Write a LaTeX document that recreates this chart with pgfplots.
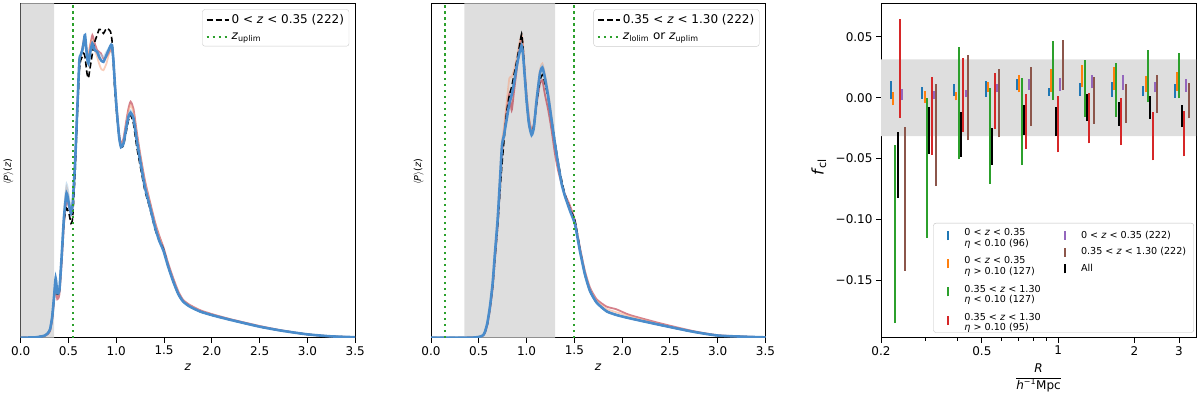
\documentclass[border=0pt]{standalone}
\usepackage{fontspec}
\setmainfont{DejaVu Sans}
\usepackage{pgfplots}
\usepackage{pgfplotstable}
\pgfplotsset{compat=1.18}

\definecolor{tabblue}{HTML}{1F77B4}
\definecolor{taborange}{HTML}{FF7F0E}
\definecolor{tabgreen}{HTML}{2CA02C}
\definecolor{tabred}{HTML}{D62728}
\definecolor{tabpurple}{HTML}{9467BD}
\definecolor{tabbrown}{HTML}{8C564B}
\definecolor{pzblue}{HTML}{4A8CCB}
\definecolor{pzlblue}{HTML}{A6CBE5}
\definecolor{pzdred}{HTML}{B2182B}
\definecolor{pzpink}{HTML}{F4A582}
\definecolor{band}{HTML}{DEDEDE}

% mean P(z), first redshift bin
\pgfplotstableread{
z      b     k     dr    sa    lb
0.000  0.0   0.0   0.0   0.0   0.0
0.150  0.1   0.1   0.1   0.1   0.1
0.200  0.3   0.3   0.3   0.3   0.3
0.250  0.6   0.6   0.5   0.6   0.7
0.280  1.2   1.2   1.0   1.2   1.3
0.307  2.5   2.5   2.0   2.4   2.7
0.330  6.3   6.3   5.5   6.2   6.8
0.352  13.3  13.0  12.0  13.0  14.0
0.366  17.7  17.0  15.5  17.0  18.5
0.383  13.3  13.0  11.5  13.0  14.0
0.405  14.3  14.0  13.0  14.0  15.0
0.430  25.0  24.5  23.0  25.0  26.0
0.453  36.0  35.0  34.0  37.0  37.5
0.480  43.2  38.7  41.0  45.0  46.0
0.506  39.7  37.0  39.0  41.0  42.0
0.527  37.2  34.2  37.0  38.0  38.5
0.544  40.0  36.0  40.0  40.5  40.5
0.570  53.0  50.0  53.0  53.0  53.0
0.593  69.0  67.0  69.0  69.0  69.0
0.614  83.0  80.0  82.0  82.5  83.0
0.628  84.5  83.0  84.0  84.5  84.5
0.645  86.0  84.0  86.5  86.0  86.0
0.660  88.5  85.0  89.0  88.0  88.5
0.673  90.5  84.0  89.5  88.0  90.0
0.694  84.0  79.0  85.0  85.5  84.5
0.708  82.0  77.6  83.0  84.0  82.5
0.725  85.0  80.5  87.0  87.5  85.5
0.750  88.0  85.0  90.5  89.0  88.0
0.775  86.0  88.5  88.0  86.0  86.5
0.800  85.5  90.5  86.0  84.0  85.5
0.820  84.0  92.2  85.5  82.0  85.0
0.840  83.0  92.0  85.0  80.5  84.5
0.866  82.5  91.0  83.5  80.0  84.0
0.897  84.5  92.5  84.0  82.0  85.5
0.920  86.0  92.2  85.0  84.5  86.5
0.940  87.3  91.5  86.0  86.0  87.5
0.955  87.5  89.0  86.5  86.5  87.5
0.970  83.0  82.0  83.0  83.0  83.0
0.985  76.0  74.0  76.0  76.0  76.0
1.005  68.0  67.0  68.5  68.0  68.0
1.030  60.0  60.0  61.0  60.5  60.0
1.050  57.0  57.0  58.0  57.5  57.0
1.075  58.0  57.5  59.5  59.0  58.0
1.100  62.0  61.0  64.0  63.0  62.5
1.127  66.0  65.0  68.5  67.5  66.5
1.150  67.3  66.6  70.6  69.5  68.0
1.180  65.6  64.0  68.5  67.5  66.0
1.215  59.0  57.0  61.5  60.5  59.5
1.250  53.0  51.5  55.0  54.5  53.5
1.300  45.0  44.0  47.0  46.5  45.5
1.354  39.0  38.5  40.5  40.0  39.0
1.406  33.0  32.5  34.5  34.0  33.0
1.450  29.0  29.0  30.5  30.0  29.0
1.494  26.0  26.5  27.0  26.5  26.0
1.546  21.0  21.0  22.0  21.5  21.0
1.600  16.5  16.5  17.5  17.0  16.5
1.650  13.0  13.0  13.8  13.5  13.0
1.700  10.8  10.8  11.3  11.0  10.8
1.770  9.3   9.3   9.8   9.6   9.3
1.880  7.8   7.8   8.2   8.0   7.8
2.020  6.6   6.6   6.9   6.8   6.6
2.200  5.3   5.3   5.5   5.4   5.3
2.500  3.3   3.3   3.5   3.4   3.3
2.730  2.1   2.1   2.2   2.1   2.1
3.000  1.0   1.0   1.0   1.0   1.0
3.250  0.4   0.4   0.4   0.4   0.4
3.500  0.15  0.15  0.15  0.15  0.15
}\pzlow

% mean P(z), second redshift bin
\pgfplotstableread{
z      b     k     dr    sa    lb
0.000  0.0   0.0   0.0   0.0   0.0
0.300  0.0   0.0   0.0   0.0   0.0
0.450  0.05  0.05  0.05  0.05  0.05
0.513  0.3   0.3   0.3   0.3   0.3
0.547  0.8   0.8   0.7   0.8   0.8
0.565  1.8   1.7   1.5   1.8   1.9
0.589  4.3   4.0   3.8   4.3   4.4
0.617  9.3   9.0   8.5   9.3   9.5
0.645  16.3  15.5  15.0  16.3  16.5
0.669  25.2  24.0  23.5  25.5  25.5
0.697  35.2  33.5  33.5  36.0  35.5
0.722  47.2  44.0  45.0  48.0  47.5
0.743  57.5  52.0  55.0  58.5  57.5
0.764  60.6  59.0  61.0  63.0  61.0
0.790  65.0  67.0  68.0  70.0  65.5
0.820  70.0  72.5  73.0  77.6  71.0
0.844  72.6  75.0  68.0  78.0  73.5
0.868  76.0  78.5  73.5  80.0  77.0
0.896  81.0  82.5  80.0  83.5  81.5
0.924  85.0  87.0  86.5  88.0  85.5
0.948  87.3  90.8  90.0  90.5  88.0
0.962  85.0  87.0  87.0  88.0  85.5
0.976  80.0  81.0  81.0  82.0  80.5
1.000  71.0  71.0  72.5  73.0  71.5
1.025  64.0  64.0  65.5  66.0  64.5
1.053  60.6  61.0  62.0  61.5  61.0
1.077  63.0  63.5  64.0  64.0  63.5
1.105  71.0  70.0  70.0  72.0  71.5
1.140  79.0  77.0  76.0  80.0  79.5
1.165  80.8  78.6  77.0  82.0  81.5
1.190  78.0  76.5  73.0  79.0  78.5
1.227  72.0  71.5  68.0  73.0  72.5
1.262  65.0  65.0  62.0  66.0  65.5
1.297  58.0  58.5  55.0  58.5  58.0
1.330  52.0  52.5  50.0  52.5  52.0
1.367  46.0  47.0  46.0  46.5  46.0
1.400  42.5  43.0  43.0  42.5  42.5
1.454  38.0  38.5  39.5  38.5  38.0
1.506  34.0  35.0  35.0  34.0  34.0
1.558  26.0  26.5  27.0  26.5  26.0
1.610  19.0  19.0  20.0  19.5  19.0
1.663  14.0  14.0  15.0  14.5  14.0
1.733  10.5  10.5  11.5  11.0  10.5
1.837  7.9   7.9   9.3   8.6   7.9
1.940  6.8   6.8   8.5   7.6   6.8
2.080  5.8   5.8   6.8   6.4   5.8
2.400  3.8   3.8   4.3   4.0   3.8
2.740  1.8   1.8   2.0   1.9   1.8
3.020  0.6   0.6   0.7   0.6   0.6
3.500  0.1   0.1   0.1   0.1   0.1
}\pzmid

% f_cl ranges (low, high) per radial bin
\pgfplotstableread{
x      blo     bhi    olo     ohi    glo     ghi    rlo     rhi     plo     phi    nlo     nhi     klo     khi
0.2330 -0.0010 0.0137 -0.0063 0.0047 -0.1850 -0.0390 -0.0164 0.0647 -0.0020 0.0068 -0.1420 -0.0244 -0.0820 -0.0280
0.3104 -0.0010 0.0085 -0.0041 0.0058 -0.1150 -0.0005 -0.0470 0.0170 -0.0010 0.0055 -0.0726 0.0115 -0.0458 -0.0074
0.4134 0.0014 0.0115 -0.0022 0.0047 -0.0507 0.0414 -0.0280 0.0323 0.0005 0.0063 -0.0350 0.0348 -0.0485 -0.0115
0.5507 0.0008 0.0137 0.0049 0.0132 -0.0707 0.0077 -0.0258 0.0200 0.0044 0.0115 -0.0326 0.0233 -0.0550 -0.0252
0.7335 0.0060 0.0151 0.0044 0.0184 -0.0553 0.0162 -0.0419 0.0027 0.0063 0.0151 -0.0233 0.0252 -0.0304 -0.0058
0.9770 0.0016 0.0082 0.0049 0.0233 -0.0019 0.0463 -0.0449 0.0011 0.0055 0.0162 0.0063 0.0471 -0.0315 -0.0079
1.3014 0.0016 0.0118 0.0085 0.0266 -0.0156 0.0307 -0.0375 0.0036 0.0077 0.0186 -0.0214 0.0167 -0.0192 0.0027
1.7335 0.0008 0.0129 0.0063 0.0252 -0.0156 0.0288 -0.0389 -0.0005 0.0063 0.0184 -0.0205 0.0110 -0.0230 -0.0033
2.3090 0.0014 0.0093 0.0044 0.0178 -0.0033 0.0392 -0.0515 -0.0118 0.0044 0.0132 -0.0123 0.0189 -0.0173 0.0016
3.0760 0.0000 0.0110 0.0058 0.0211 -0.0005 0.0370 -0.0482 -0.0107 0.0049 0.0151 -0.0170 0.0118 -0.0241 -0.0058
}\fclbins

\pgfplotsset{
  mpl/.style={
    scale only axis, height=334.4pt,
    axis line style={line width=1pt, black},
    every tick/.style={line width=1pt, black},
    major tick length=5pt, minor tick length=3pt,
    tick align=outside, xtick pos=bottom, ytick pos=left,
    tick label style={font=\fontsize{12}{12}\selectfont},
  },
  pzaxis/.style={mpl, width=334.5pt, xmin=0, xmax=3.5, ymin=0, ymax=100,
    xtick={0,0.5,1,1.5,2,2.5,3,3.5},
    xticklabels={0.0,0.5,1.0,1.5,2.0,2.5,3.0,3.5}, ytick=\empty,
    xlabel={\textit{z}},
    xlabel style={at={(axis description cs:0.5,0)}, anchor=center, yshift=-30pt,
      font=\fontsize{12}{12}\selectfont},
    ylabel={\ensuremath{\langle}\textit{P}\ensuremath{\rangle}(\textit{z})},
    ylabel style={at={(axis description cs:-0.037,0.496)}, anchor=center,
      font=\fontsize{9.6}{9.6}\selectfont},
    legend style={at={(0.982,0.982)}, anchor=north east, draw=black!20,
      rounded corners=2.5pt, fill=white, font=\fontsize{12}{12}\selectfont,
      row sep=4pt, inner sep=3pt},
    legend cell align=left,
    legend image code/.code={\draw[##1] (0pt,0pt) -- (22pt,0pt);},
  },
  curve/.style={smooth, tension=0.35},
  bg/.style={curve, line width=1.8pt, opacity=0.55, forget plot},
  kdash/.style={curve, black, line width=1.6pt, dash pattern=on 6pt off 3pt},
  gdot/.style={tabgreen, line width=2.2pt, dash pattern=on 2.2pt off 3.8pt},
  fclaxis/.style={mpl, width=315pt, xmin=0.2, xmax=3.5,
    ymin=-0.197, ymax=0.0775},
  fclbar/.style={draw=none,
    legend image code/.code={\path (-12pt,0pt) (14pt,0pt);
      \draw[line width=2pt,#1] (0pt,-4.5pt) -- (0pt,4.5pt);},
    /pgfplots/error bars/y dir=plus,
    /pgfplots/error bars/y explicit,
    /pgfplots/error bars/error mark=none,
    /pgfplots/error bars/error bar style={line width=2pt, draw=#1, solid}},
}

\begin{document}
\begin{tikzpicture}
\useasboundingbox (0,0) rectangle (1200pt,397pt);

% ---- panel 1
\begin{axis}[pzaxis, at={(20.7pt,59.3pt)}, anchor=south west]
\addplot[fill=band, draw=none, forget plot] coordinates {(0,0) (0.35,0) (0.35,100) (0,100) (0,0)};
\addplot[bg, pzdred] table[x=z, y=dr] {\pzlow};
\addplot[bg, pzpink] table[x=z, y=sa] {\pzlow};
\addplot[bg, pzlblue] table[x=z, y=lb] {\pzlow};
\addplot[kdash] table[x=z, y=k] {\pzlow};
\addlegendentry{0 < \textit{z} < 0.35 (222)}
\addplot[curve, pzblue, line width=2.6pt, forget plot] table[x=z, y=b] {\pzlow};
\addplot[gdot] coordinates {(0.545,0) (0.545,100)};
\addlegendentry{\textit{z}\textsubscript{uplim}}
\end{axis}

% ---- panel 2
\begin{axis}[pzaxis, at={(431pt,59.3pt)}, anchor=south west]
\addplot[fill=band, draw=none, forget plot] coordinates {(0.35,0) (1.3,0) (1.3,100) (0.35,100) (0.35,0)};
\addplot[bg, pzdred] table[x=z, y=dr] {\pzmid};
\addplot[bg, pzpink] table[x=z, y=sa] {\pzmid};
\addplot[bg, pzlblue] table[x=z, y=lb] {\pzmid};
\addplot[kdash] table[x=z, y=k] {\pzmid};
\addlegendentry{0.35 < \textit{z} < 1.30 (222)}
\addplot[curve, pzblue, line width=2.6pt, forget plot] table[x=z, y=b] {\pzmid};
\addplot[gdot] coordinates {(0.15,0) (0.15,100)};
\addlegendentry{\textit{z}\textsubscript{lolim} or \textit{z}\textsubscript{uplim}}
\addplot[gdot, forget plot] coordinates {(1.5,0) (1.5,100)};
\end{axis}

% ---- panel 3, first four samples and the axes
\begin{semilogxaxis}[fclaxis, at={(881pt,59.3pt)}, anchor=south west,
  xtick={0.2,0.5,1,2,3}, xticklabels={0.2,0.5,1,2,3},
  minor xtick={0.3,0.4,0.6,0.7,0.8,0.9},
  ytick={-0.15,-0.1,-0.05,0,0.05},
  yticklabels={−0.15,−0.10,−0.05,0.00,0.05},
  xlabel={$\displaystyle\frac{\mbox{\textit{R}}}{\mbox{\textit{h}\textsuperscript{−1}Mpc}}$},
  xlabel style={at={(axis description cs:0.5,0)}, anchor=base, yshift=-43pt,
    font=\fontsize{12}{12}\selectfont},
  ylabel={\textit{f}\textsubscript{cl}},
  ylabel style={at={(axis description cs:-0.197,0.51)}, anchor=center,
    font=\fontsize{16}{16}\selectfont},
  legend style={at={(0.166,0.015)}, anchor=south west, draw=black!25,
    rounded corners=2.5pt, fill=white, font=\fontsize{9.6}{10.7}\selectfont,
    row sep=9.5pt, inner sep=3pt},
  legend cell align=left]
\addplot[fill=band, draw=none, forget plot] coordinates {(0.2,-0.0315) (3.5,-0.0315) (3.5,0.0315) (0.2,0.0315) (0.2,-0.0315)};
\addplot[fclbar=tabblue] table[x expr=\thisrow{x}*0.9385, y=blo, y error plus expr=\thisrow{bhi}-\thisrow{blo}] {\fclbins};
\addlegendentry{\begin{tabular}{@{}l@{}}0 < \textit{z} < 0.35\\\textit{η} < 0.10 (96)\end{tabular}}
\addplot[fclbar=taborange] table[x expr=\thisrow{x}*0.9585, y=olo, y error plus expr=\thisrow{ohi}-\thisrow{olo}] {\fclbins};
\addlegendentry{\begin{tabular}{@{}l@{}}0 < \textit{z} < 0.35\\\textit{η} > 0.10 (127)\end{tabular}}
\addplot[fclbar=tabgreen] table[x expr=\thisrow{x}*0.979, y=glo, y error plus expr=\thisrow{ghi}-\thisrow{glo}] {\fclbins};
\addlegendentry{\begin{tabular}{@{}l@{}}0.35 < \textit{z} < 1.30\\\textit{η} < 0.10 (127)\end{tabular}}
\addplot[fclbar=tabred] table[x expr=\thisrow{x}*1.0214, y=rlo, y error plus expr=\thisrow{rhi}-\thisrow{rlo}] {\fclbins};
\addlegendentry{\begin{tabular}{@{}l@{}}0.35 < \textit{z} < 1.30\\\textit{η} > 0.10 (95)\end{tabular}\hspace*{148pt}}
\end{semilogxaxis}

% ---- panel 3, remaining samples (second legend column)
\begin{semilogxaxis}[fclaxis, hide axis, at={(881pt,59.3pt)}, anchor=south west,
  legend style={at={(0.536,0.335)}, anchor=north west, draw=none, fill=none,
    font=\fontsize{9.6}{10.7}\selectfont, row sep=4pt, inner sep=3pt},
  legend cell align=left]
\addplot[fclbar=tabpurple] table[x expr=\thisrow{x}*1.0433, y=plo, y error plus expr=\thisrow{phi}-\thisrow{plo}] {\fclbins};
\addlegendentry{0 < \textit{z} < 0.35 (222)}
\addplot[fclbar=tabbrown] table[x expr=\thisrow{x}*1.0656, y=nlo, y error plus expr=\thisrow{nhi}-\thisrow{nlo}] {\fclbins};
\addlegendentry{0.35 < \textit{z} < 1.30 (222)}
\addplot[fclbar=black] table[x=x, y=klo, y error plus expr=\thisrow{khi}-\thisrow{klo}] {\fclbins};
\addlegendentry{All}
\end{semilogxaxis}
\end{tikzpicture}
\end{document}
